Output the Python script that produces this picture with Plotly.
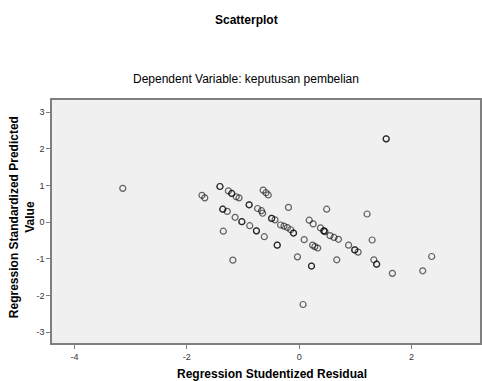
import plotly.graph_objects as go

# Regression Studentized Residual (x) vs Regression Standardized Predicted Value (y)
residual = [-3.14, -1.73, -1.68, -1.41, -1.41, -1.26, -1.20, -1.20, -1.12, -1.07,
            -0.89, -0.89, -0.74, -0.67, -0.65, -0.64, -0.59, -0.55, -0.49, -0.49,
            -0.43, -0.33, -0.27, -0.21, -0.15, -0.10, -0.10, -1.36, -1.36, -1.28,
            -1.14, -1.02, -1.02, -0.88, -0.76, -0.76, -0.62, -1.35, -1.18, -0.39,
            -0.39, -0.19, -0.03, 0.09, 0.18, 0.25, 0.24, 0.28, 0.33, 0.22,
            0.22, 0.38, 0.44, 0.44, 0.46, 0.55, 0.62, 0.70, 0.49, 0.67,
            0.88, 0.99, 0.99, 1.05, 1.21, 1.30, 1.33, 1.38, 1.38, 2.36,
            2.20, 1.66, 0.07, 1.55, 1.55]
predicted = [0.92, 0.73, 0.66, 0.97, 0.97, 0.85, 0.78, 0.78, 0.69, 0.66,
             0.47, 0.47, 0.37, 0.31, 0.24, 0.87, 0.80, 0.74, 0.10, 0.10,
             0.06, -0.08, -0.11, -0.15, -0.21, -0.30, -0.30, 0.35, 0.35, 0.29,
             0.13, 0.01, 0.01, -0.10, -0.24, -0.24, -0.40, -0.25, -1.04, -0.63,
             -0.63, 0.40, -0.95, -0.48, 0.05, -0.05, -0.63, -0.67, -0.71, -1.20,
             -1.20, -0.16, -0.24, -0.24, -0.26, -0.37, -0.42, -0.47, 0.35, -1.03,
             -0.63, -0.76, -0.76, -0.82, 0.22, -0.49, -1.03, -1.15, -1.15, -0.94,
             -1.33, -1.40, -2.25, 2.27, 2.27]

x_ticks = [-4, -2, 0, 2]
y_ticks = [-3, -2, -1, 0, 1, 2, 3]

FONT = "Liberation Sans, Arial, sans-serif"

fig = go.Figure()
fig.add_trace(go.Scatter(
    x=residual, y=predicted, mode="markers",
    marker=dict(symbol="circle-open", size=6,
                color="rgba(0,0,0,0.6)", line=dict(width=1.2)),
    hoverinfo="x+y", showlegend=False,
))

axis_common = dict(
    showgrid=False, zeroline=False, showline=True, linecolor="#7f7f7f",
    linewidth=1.5, ticks="outside", ticklen=4, tickcolor="#7f7f7f",
    tickwidth=1, tickfont=dict(family=FONT, size=9, color="#333333"),
    mirror=True,
)

fig.update_layout(
    width=482, height=381,
    margin=dict(l=52, r=0, t=100, b=38),
    paper_bgcolor="white", plot_bgcolor="#F0F0F0",
    font=dict(family=FONT, color="#000000"),
    xaxis=dict(range=[-4.4, 3.22], tickvals=x_ticks,
               ticktext=[str(v) for v in x_ticks], **axis_common),
    yaxis=dict(range=[-3.3, 3.33], tickvals=y_ticks,
               ticktext=[str(v) for v in y_ticks], **axis_common),
    annotations=[
        dict(text="<b>Scatterplot</b>", xref="paper", yref="paper",
             x=(247 - 52) / 430, y=1 + (100 - 20) / 243, showarrow=False,
             font=dict(size=12, family=FONT), xanchor="center", yanchor="middle"),
        dict(text="Dependent Variable: keputusan pembelian", xref="paper", yref="paper",
             x=(247 - 52) / 430, y=1 + (100 - 79) / 243, showarrow=False,
             font=dict(size=12, family=FONT), xanchor="center", yanchor="middle"),
        dict(text="<b>Regression Studentized Residual</b>", xref="paper", yref="paper",
             x=(273 - 52) / 430, y=-(374 - 343) / 243, showarrow=False,
             font=dict(size=12, family=FONT), xanchor="center", yanchor="middle"),
        dict(text="<b>Regression Standardized Predicted<br>Value</b>", xref="paper",
             yref="paper", x=-(52 - 22) / 430, y=(343 - 217) / 243, showarrow=False,
             textangle=-90, font=dict(size=12, family=FONT),
             xanchor="center", yanchor="middle"),
    ],
)

fig.write_html(
    "out.html",
    config={"displayModeBar": False},
    post_script="document.body.style.margin='0';document.body.style.overflow='hidden';",
)
